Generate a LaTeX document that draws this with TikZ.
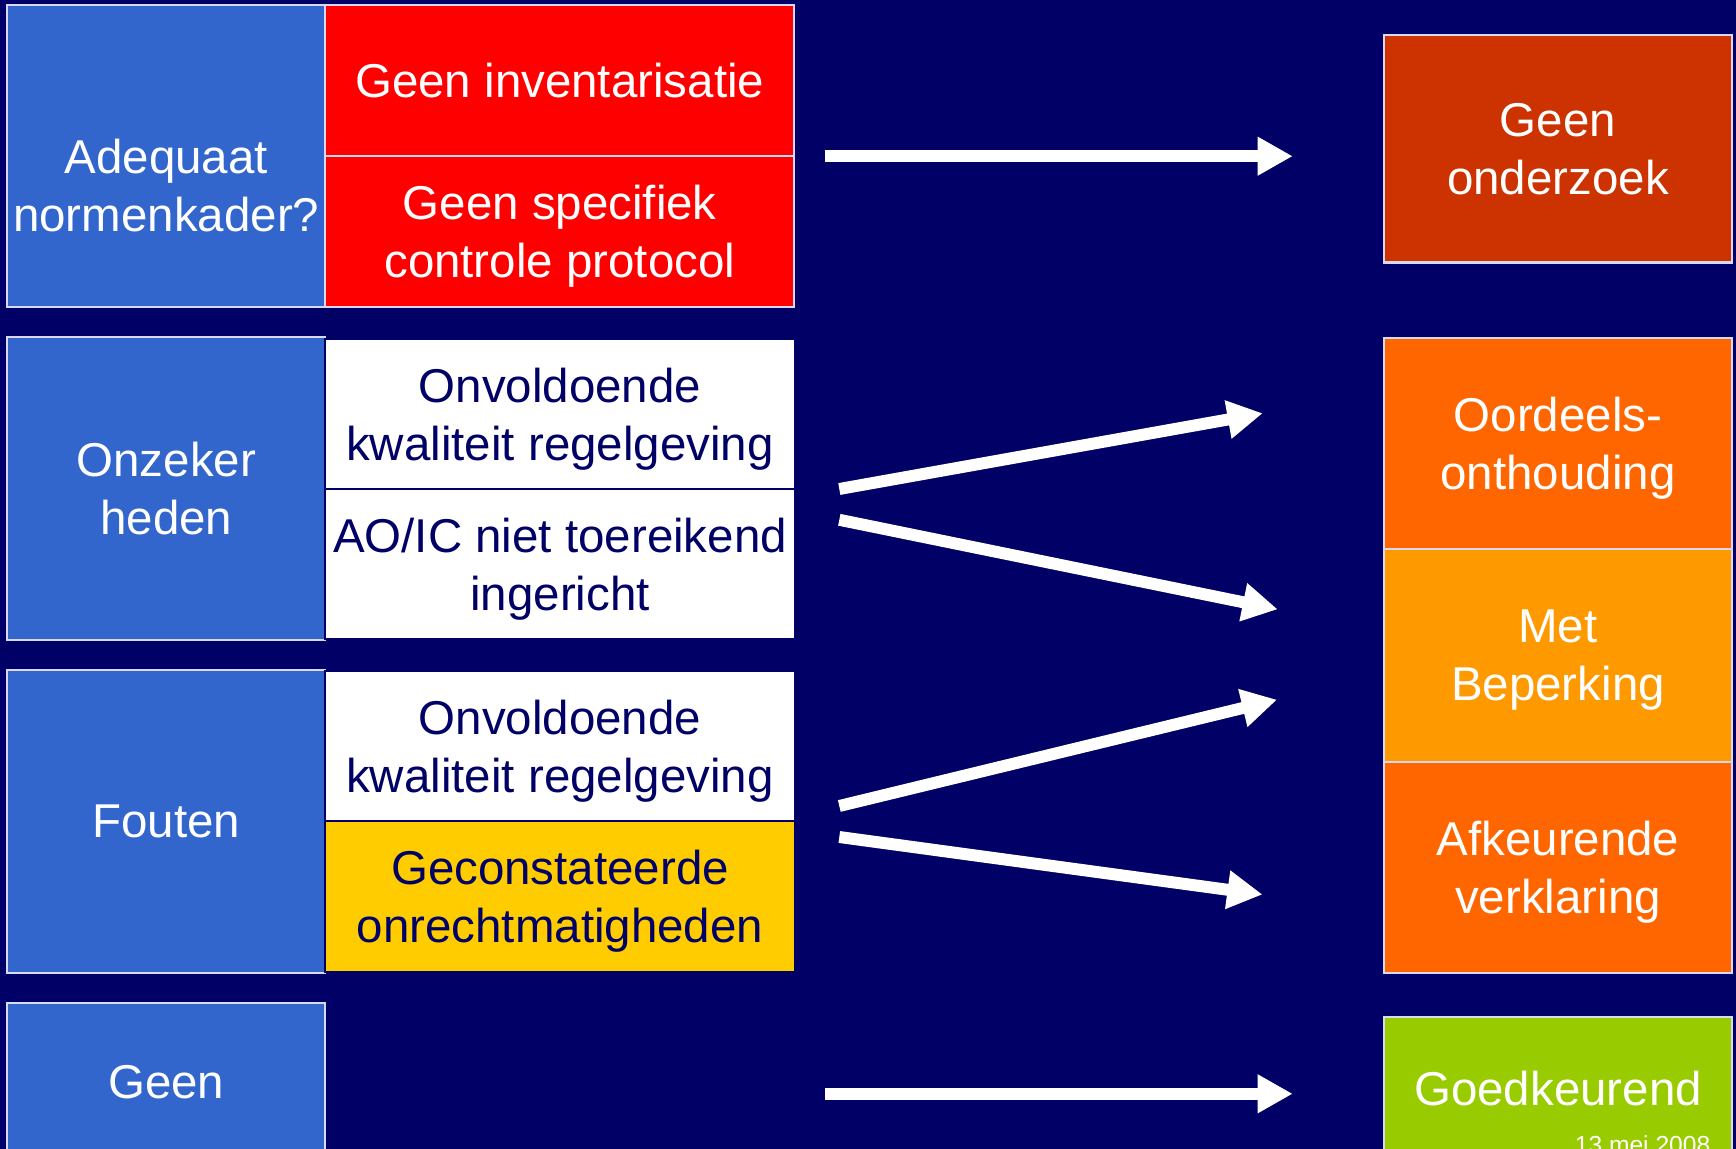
\documentclass[tikz,border=0pt]{standalone}
\usepackage{fontspec}
\setmainfont{Liberation Sans}
\usetikzlibrary{arrows.meta}

\definecolor{navy}{HTML}{000066}
\definecolor{vakblauw}{HTML}{3366CC}
\definecolor{vakrood}{HTML}{FF0000}
\definecolor{vakgeel}{HTML}{FFCC00}
\definecolor{roest}{HTML}{CC3300}
\definecolor{oranje}{HTML}{FF6600}
\definecolor{lichtoranje}{HTML}{FF9900}
\definecolor{groen}{HTML}{99CC00}
\definecolor{rand}{HTML}{D8D8F0}

\begin{document}
\begin{tikzpicture}[x=0.01cm, y=-0.01cm,
    vak/.style={draw=rand, line width=0.6pt, inner sep=0pt, align=center, text=white,
        font=\fontsize{13.5}{16.5}\selectfont, text depth=-1pt},
    links/.style={vak, fill=vakblauw, minimum width=3.175cm},
    midden/.style={vak, minimum width=4.69cm, minimum height=1.505cm},
    wit/.style={midden, draw=navy, fill=white, text=navy},
    rechts/.style={vak, minimum width=3.48cm},
    tekst/.style={inner sep=0pt, align=center, text=white, font=\fontsize{13.5}{16.5}\selectfont},
    pijl/.style={draw=white, line width=3.4pt, -{Triangle[length=10pt, width=10.4pt]}}]
    \useasboundingbox (0,0) rectangle (1736,1149);
    \fill[navy] (0,0) rectangle (1736,1149);

    % linker kolom
    \node[links, minimum height=3.02cm] (adq) at (166.25,156) {};
    \node[tekst] (adqtekst) at (166.25,186) {Adequaat\\normenkader?};
    \node[links, minimum height=3.025cm] (onz) at (166.25,488.75) {Onzeker\\heden};
    \node[links, minimum height=3.03cm] (fout) at (166.25,821.5) {Fouten};
    \node[links, minimum height=1.57cm] (geen) at (166.25,1081.5) {Geen};

    % middelste kolom
    \node[midden, fill=vakrood] (inv) at (559.75,80.5) {Geen inventarisatie};
    \node[midden, fill=vakrood] (prot) at (559.75,231.5) {Geen specifiek\\controle protocol};
    \node[wit] (kwal1) at (560,414) {Onvoldoende\\kwaliteit regelgeving};
    \node[wit] (aoic) at (560,564) {AO/IC niet toereikend\\ingericht};
    \node[wit] (kwal2) at (560,746.5) {Onvoldoende\\kwaliteit regelgeving};
    \node[wit, fill=vakgeel] (geco) at (560,896.7) {Geconstateerde\\onrechtmatigheden};

    % rechter kolom
    \node[rechts, fill=roest, minimum height=2.274cm] (gonz) at (1558,148.7) {Geen\\onderzoek};
    \node[rechts, fill=oranje, minimum height=2.114cm] (oord) at (1558,443.4) {Oordeels-\\onthouding};
    \node[rechts, fill=lichtoranje, minimum height=2.126cm] (met) at (1558,655.4) {Met\\Beperking};
    \node[rechts, fill=oranje, minimum height=2.115cm] (afk) at (1558,867.45) {Afkeurende\\verklaring};
    \node[rechts, fill=groen, minimum height=1.43cm] (goed) at (1558,1088.5) {Goedkeurend};
    \node[anchor=base east, inner sep=0pt, text=white, font=\fontsize{7}{8}\selectfont] (datum) at (1711,1153) {13 mei 2008};

    % pijlen
    \coordinate (p1a) at (824.5,156.2);  \coordinate (p1b) at (1292.7,156.2);
    \coordinate (p2a) at (839.3,489);    \coordinate (p2b) at (1262.7,413.3);
    \coordinate (p3a) at (839.3,519.8);  \coordinate (p3b) at (1277.7,609.3);
    \coordinate (p4a) at (839.3,806);    \coordinate (p4b) at (1277,699.7);
    \coordinate (p5a) at (839.3,837);    \coordinate (p5b) at (1262.5,894.5);
    \coordinate (p6a) at (824.5,1093.8); \coordinate (p6b) at (1292.7,1093.8);
    \draw[pijl] (p1a) -- (p1b);
    \draw[pijl] (p2a) -- (p2b);
    \draw[pijl] (p3a) -- (p3b);
    \draw[pijl] (p4a) -- (p4b);
    \draw[pijl] (p5a) -- (p5b);
    \draw[pijl] (p6a) -- (p6b);
\end{tikzpicture}
\end{document}
